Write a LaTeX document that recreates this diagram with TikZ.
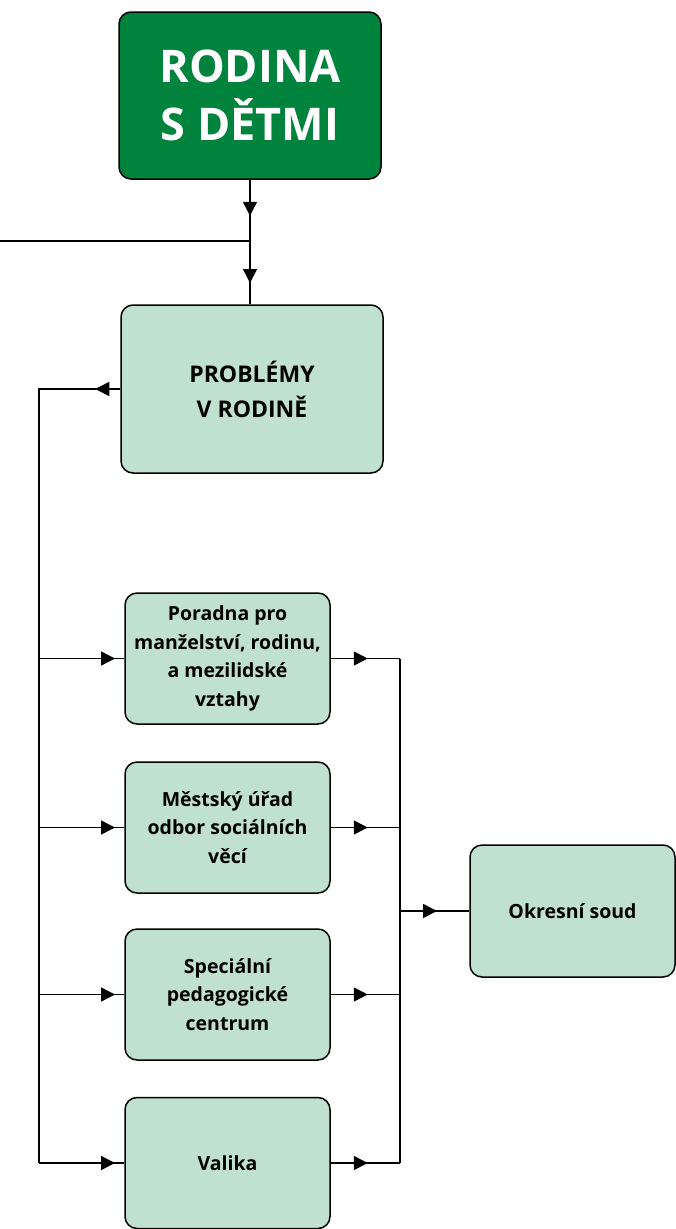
\documentclass[tikz,border=0pt]{standalone}
\usepackage{fontspec}
\setmainfont{Open Sans}
\usetikzlibrary{arrows.meta,decorations.markings}
\definecolor{darkgreen}{RGB}{0,132,61}
\definecolor{lightgreen}{RGB}{192,224,208}
\begin{document}
\begin{tikzpicture}[x=1pt, y=-1pt, line width=1.5pt,
    box/.style={draw, rounded corners=12pt, fill=lightgreen, align=center,
      font=\bfseries\fontsize{19.5}{28.5}\selectfont, inner sep=0pt},
    arrowat/.style={postaction={decorate}, decoration={markings,
      mark=at position #1 with {\arrow{Triangle[length=14pt, width=14pt]}}}}]
    \useasboundingbox (0,0) rectangle (676,1229);

    \node[box, fill=darkgreen, text=white, minimum width=262pt, minimum height=167pt,
      font=\bfseries\fontsize{45}{58}\selectfont] (rodina) at (250,95.5) {RODINA\\S DĚTMI};
    \node[box, minimum width=262pt, minimum height=168pt,
      font=\bfseries\fontsize{23}{35}\selectfont] (problemy) at (252,389) {PROBLÉMY\\V RODINĚ};
    \node[box, minimum width=205pt, minimum height=131pt] (poradna) at (227.5,658.5) {Poradna pro\\manželství, rodinu,\\a mezilidské\\vztahy};
    \node[box, minimum width=205pt, minimum height=131pt] (urad) at (227.5,827.5) {Městský úřad\\odbor sociálních\\věcí};
    \node[box, minimum width=205pt, minimum height=131pt] (centrum) at (227.5,994.5) {Speciální\\pedagogické\\centrum};
    \node[box, minimum width=205pt, minimum height=131pt] (valika) at (227.5,1163) {Valika};
    \node[box, minimum width=205pt, minimum height=132pt] (soud) at (572.5,911) {Okresní soud};

    \coordinate (jn) at (250,241);
    \coordinate (lft) at (0,241);
    \coordinate (bl) at (39,389);
    \coordinate (br) at (400,911);

    % top
    \draw[arrowat=36pt] (rodina.south) -- (jn);
    \draw[arrowat=42pt] (jn) -- (jn |- problemy.north);
    \draw (lft) -- (jn);

    % left bus
    \draw[arrowat=25pt] (problemy.west) -- (bl) -- (bl |- valika.west);
    \draw[arrowat=76pt] (bl |- poradna.west) -- (poradna.west);
    \draw[arrowat=76pt] (bl |- urad.west) -- (urad.west);
    \draw[arrowat=76pt] (bl |- centrum.west) -- (centrum.west);
    \draw[arrowat=76pt] (bl |- valika.west) -- (valika.west);

    % right bus
    \draw[arrowat=37pt] (poradna.east) -- (br |- poradna.east);
    \draw[arrowat=37pt] (urad.east) -- (br |- urad.east);
    \draw[arrowat=37pt] (centrum.east) -- (br |- centrum.east);
    \draw[arrowat=37pt] (valika.east) -- (br |- valika.east);
    \draw (br |- poradna.east) -- (br |- valika.east);
    \draw[arrowat=37pt] (br) -- (soud.west);
\end{tikzpicture}
\end{document}
